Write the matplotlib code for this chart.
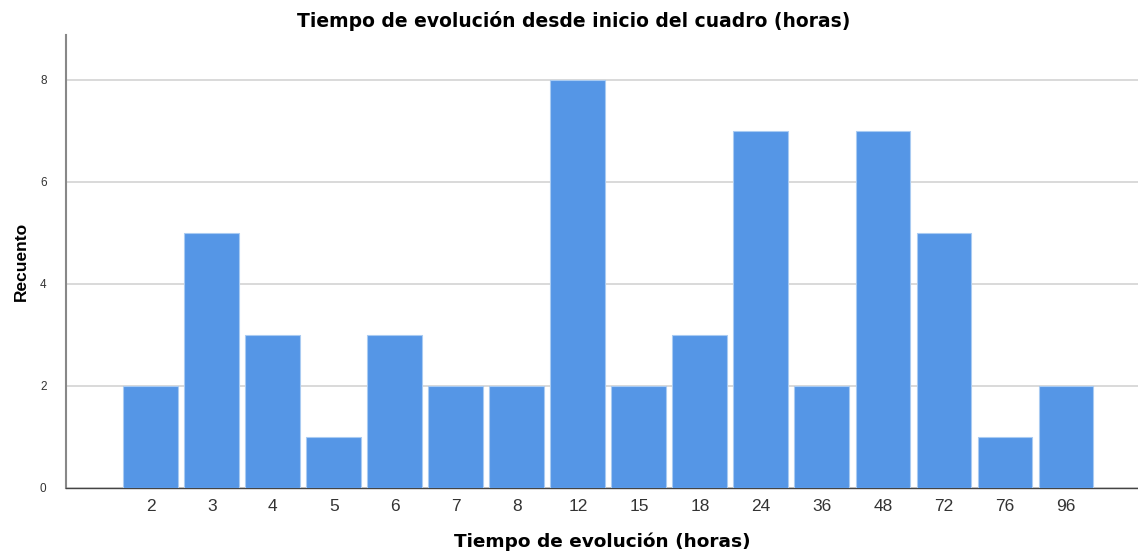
import numpy as np
import matplotlib.pyplot as plt

horas = ['2', '3', '4', '5', '6', '7', '8', '12', '15', '18', '24', '36', '48', '72', '76', '96']
recuento = [2, 5, 3, 1, 3, 2, 2, 8, 2, 3, 7, 2, 7, 5, 1, 2]

plt.rcParams['font.family'] = ['Liberation Sans', 'DejaVu Sans']

fig = plt.figure(figsize=(11.38, 5.52), dpi=100)
ax = fig.add_axes([0.058, 0.116, 0.942, 0.821])

x = np.arange(len(horas))
ax.bar(x, recuento, width=0.9, color='#5596E6', edgecolor='#A9CBF2', linewidth=0.8, zorder=3)

ax.set_xlim(-1.39, 16.18)
ax.set_ylim(0, 8.88)
ax.set_xticks(x)
ax.set_xticklabels(horas, fontsize=12.5, color='#333333')
ax.set_yticks([0, 2, 4, 6, 8])
ax.set_yticklabels(['0', '2', '4', '6', '8'], fontsize=8.5, color='#333333')
ax.tick_params(length=0, pad=8)
ax.tick_params(axis='y', pad=14)

ax.grid(axis='y', color='#D3D3D3', linewidth=1.2, zorder=0)
for s in ['top', 'right']:
    ax.spines[s].set_visible(False)
ax.spines['left'].set_color('#888888')
ax.spines['left'].set_linewidth(1.5)
ax.spines['bottom'].set_color('#444444')
ax.spines['bottom'].set_linewidth(1.0)

# titulo centrado en la figura, no en los ejes
fig.text(0.504, 0.962, 'Tiempo de evolución desde inicio del cuadro (horas)', fontsize=13.5,
         fontweight='bold', family='DejaVu Sans', ha='center', va='center')
ax.set_xlabel('Tiempo de evolución (horas)', fontsize=13.3, fontweight='bold',
              family='DejaVu Sans', labelpad=13)
ax.set_ylabel('Recuento', fontsize=12.5, fontweight='bold', labelpad=8)

fig.savefig('out.png', dpi=100)
